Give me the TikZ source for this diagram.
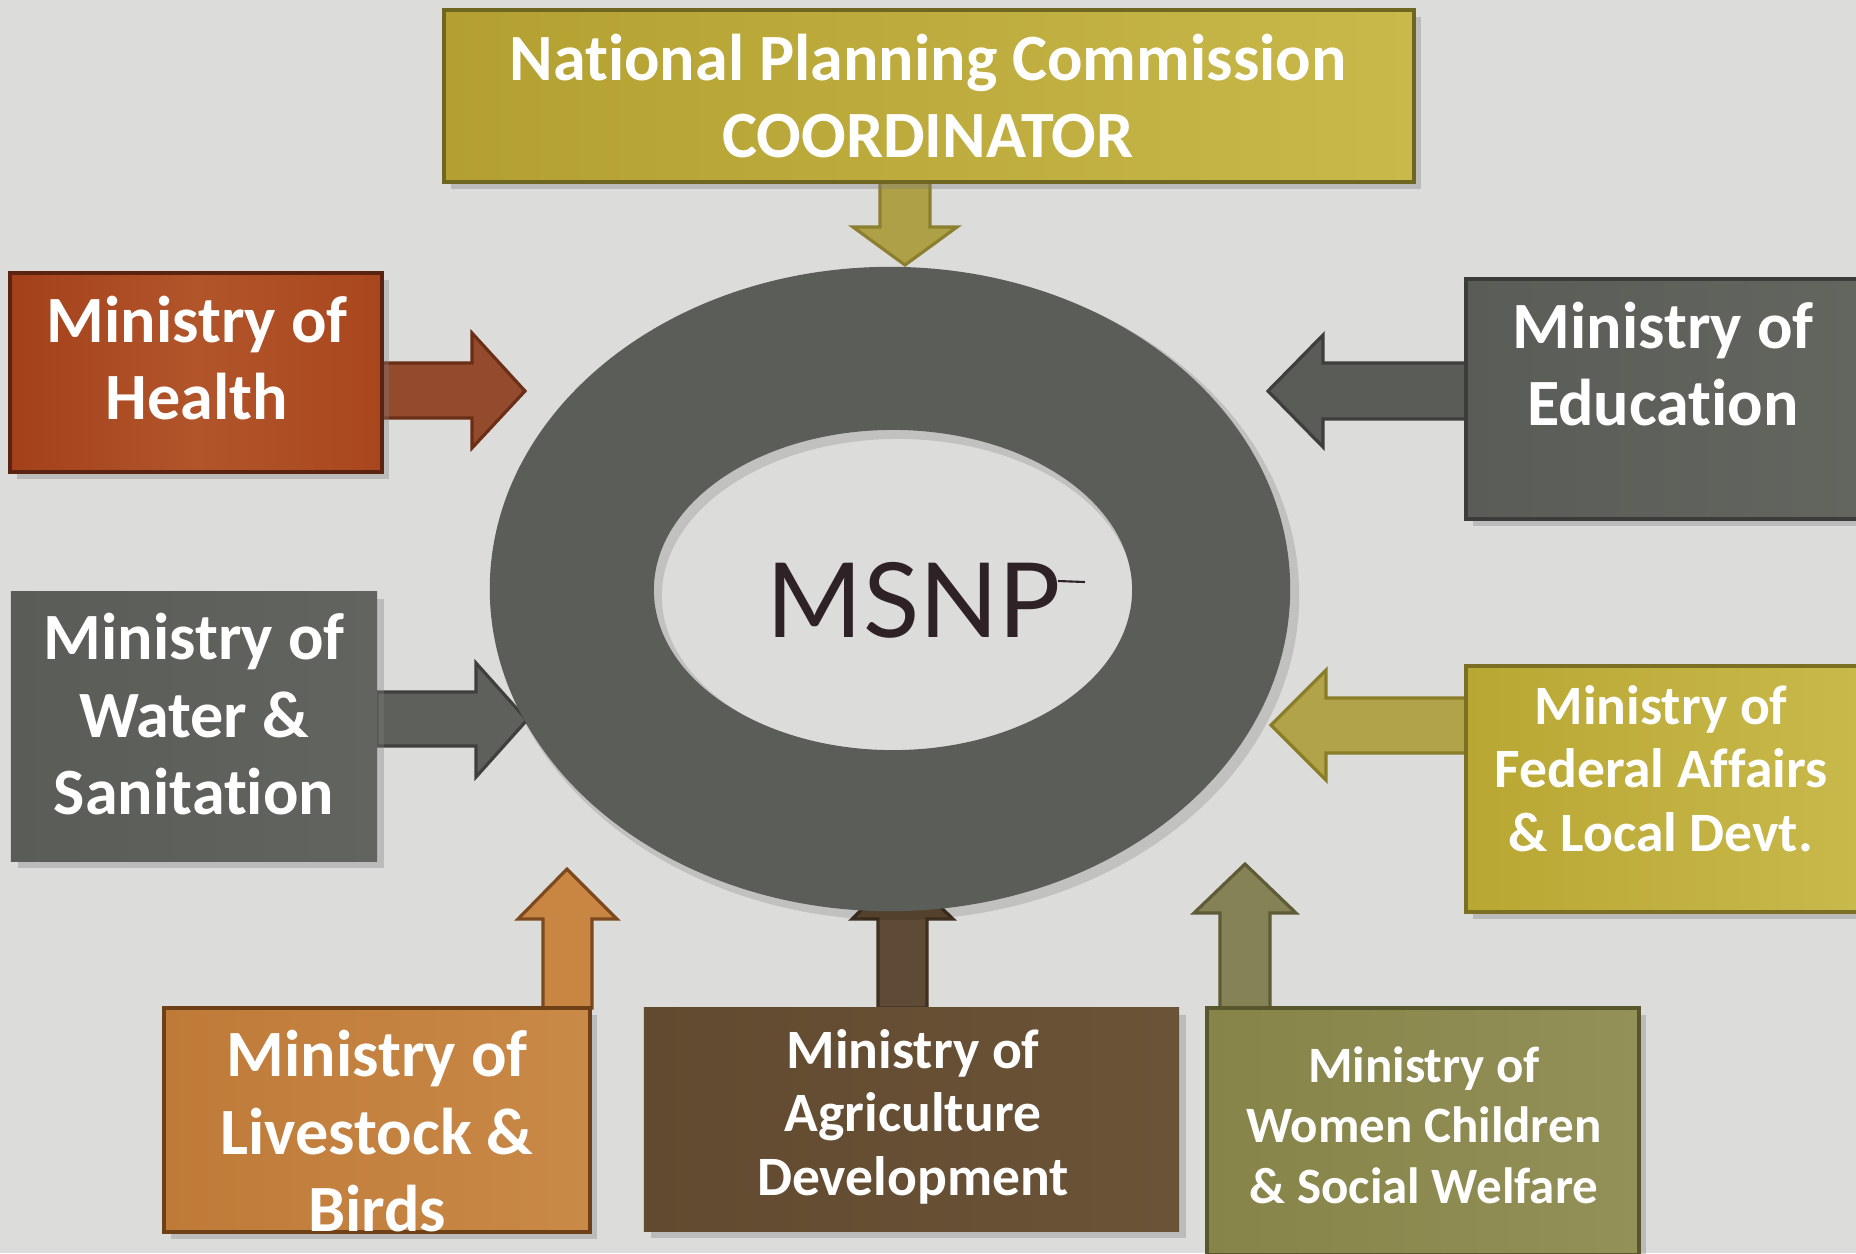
\documentclass[tikz,border=0pt]{standalone}
\usepackage{fontspec}
\setmainfont{Carlito}[Ligatures={NoCommon}]
\newfontfamily\msnpfont{Lato}
\usetikzlibrary{shadows}
\definecolor{bg}{HTML}{DCDCDB}
\definecolor{ring}{HTML}{5B5D58}
\definecolor{msnpc}{HTML}{2E2226}
% arrow colours
\definecolor{aNf}{HTML}{ADA046}\definecolor{aNd}{HTML}{8C8030}
\definecolor{aHf}{HTML}{944A2C}\definecolor{aHd}{HTML}{6B2E16}
\definecolor{aEf}{HTML}{5A5C57}\definecolor{aEd}{HTML}{3E3F3C}
\definecolor{aWf}{HTML}{5E605B}\definecolor{aWd}{HTML}{3F403D}
\definecolor{aFf}{HTML}{B0A349}\definecolor{aFd}{HTML}{8A7D28}
\definecolor{aCf}{HTML}{858255}\definecolor{aCd}{HTML}{5E5B36}
\definecolor{aLf}{HTML}{C98542}\definecolor{aLd}{HTML}{7C4A1E}
\definecolor{aAf}{HTML}{5F4B35}\definecolor{aAd}{HTML}{3F3020}
% box colours
\definecolor{bN1}{HTML}{B3A031}\definecolor{bN2}{HTML}{C8B94A}\definecolor{bNd}{HTML}{6F6621}
\definecolor{bH1}{HTML}{A3401A}\definecolor{bH2}{HTML}{A9461D}\definecolor{bH3}{HTML}{B2552B}\definecolor{bHd}{HTML}{5A2410}
\definecolor{bE1}{HTML}{5A5C57}\definecolor{bE2}{HTML}{63655F}\definecolor{bEd}{HTML}{3C3D3A}
\definecolor{bW1}{HTML}{5A5C57}\definecolor{bW2}{HTML}{62645F}
\definecolor{bF1}{HTML}{B9A733}\definecolor{bF2}{HTML}{C8B94B}\definecolor{bFd}{HTML}{7A6F22}
\definecolor{bC1}{HTML}{878449}\definecolor{bC2}{HTML}{939058}\definecolor{bCd}{HTML}{59562E}
\definecolor{bA1}{HTML}{614A2F}\definecolor{bA2}{HTML}{6A5337}
\definecolor{bL1}{HTML}{BF7A38}\definecolor{bL2}{HTML}{C98947}\definecolor{bLd}{HTML}{6E4017}
\tikzset{
  mbox/.style={rectangle, inner sep=0pt, outer sep=0pt, line width=1.1pt,
    drop shadow={opacity=0.35, shadow xshift=2pt, shadow yshift=-2pt}},
  btxt/.style={text=white, align=center, anchor=base, inner sep=0pt},
  barrow/.style={line width=0.9pt, line join=miter},
  bigf/.style={font={\bfseries\fontsize{18.8}{21.9}\selectfont}},
  midf/.style={font={\bfseries\fontsize{15.8}{18}\selectfont}},
  smallf/.style={font={\bfseries\fontsize{14.5}{17.2}\selectfont}},
}
\begin{document}
\begin{tikzpicture}[x=0.01cm,y=-0.01cm]
\fill[bg] (0,0) rectangle (1856,1253);
\useasboundingbox (0,0) rectangle (1856,1253);

% arrows
\draw[barrow, fill=aNf, draw=aNd] (880,182)--(880,227)--(853,227)--(905,265)--(957,227)--(930,227)--(930,182)--cycle;
\draw[barrow, fill=aHf, draw=aHd] (382,363)--(472,363)--(472,333)--(525,391)--(472,448)--(472,418)--(382,418)--cycle;
\draw[barrow, fill=aEf, draw=aEd] (1466,363)--(1323,363)--(1323,335)--(1268,391)--(1323,447)--(1323,419)--(1466,419)--cycle;
\draw[barrow, fill=aWf, draw=aWd] (377,692)--(476,692)--(476,663)--(527,720)--(476,777)--(476,746)--(377,746)--cycle;
\draw[barrow, fill=aFf, draw=aFd] (1466,698)--(1326,698)--(1326,670)--(1271,725)--(1326,780)--(1326,753)--(1466,753)--cycle;
\draw[barrow, fill=aCf, draw=aCd] (1220,1008)--(1220,913)--(1194,913)--(1245,864)--(1296,913)--(1270,913)--(1270,1008)--cycle;
\draw[barrow, fill=aLf, draw=aLd] (543,1008)--(543,919)--(518,919)--(567,869)--(617,919)--(592,919)--(592,1008)--cycle;
\draw[barrow, fill=aAf, draw=aAd] (878,1008)--(878,919)--(852,919)--(902,870)--(953,919)--(927,919)--(927,1008)--cycle;

% ring with soft shadow
\fill[black, opacity=0.12, even odd rule]
  (896,595) ellipse [x radius=4.03cm, y radius=3.25cm]
  (898,596) ellipse [x radius=2.36cm, y radius=1.57cm];
\fill[ring, even odd rule]
  (890,589) ellipse [x radius=4cm, y radius=3.22cm]
  (893,590) ellipse [x radius=2.39cm, y radius=1.60cm];
\node[inner sep=0pt, anchor=base, text=msnpc, font={\msnpfont\fontsize{29.5}{30}\selectfont}] (msnp) at (914,637) {MSNP};
\draw[msnpc, line width=0.6pt] (1058,581) -- (1085,582);

% boxes
\node[mbox, minimum width=9.70cm, minimum height=1.72cm, left color=bN1, right color=bN2, draw=bNd] (npc) at (929,96) {};
\node[mbox, minimum width=3.71cm, minimum height=1.99cm, left color=bH1, right color=bH2, middle color=bH3, draw=bHd] (health) at (196,372.5) {};
\node[mbox, minimum width=3.92cm, minimum height=2.40cm, left color=bE1, right color=bE2, draw=bEd] (edu) at (1662,399) {};
\node[mbox, minimum width=3.66cm, minimum height=2.69cm, left color=bW1, right color=bW2] (water) at (194,726.5) {};
\node[mbox, minimum width=3.92cm, minimum height=2.46cm, left color=bF1, right color=bF2, draw=bFd] (fed) at (1662,789) {};
\node[mbox, minimum width=4.32cm, minimum height=2.47cm, left color=bC1, right color=bC2, draw=bCd] (women) at (1423,1131.5) {};
\node[mbox, minimum width=5.35cm, minimum height=2.23cm, left color=bA1, right color=bA2] (agri) at (911.5,1119.5) {};
\node[mbox, minimum width=4.26cm, minimum height=2.24cm, left color=bL1, right color=bL2, draw=bLd] (live) at (377,1120) {};

% texts (anchor base = last line's baseline)
\node[btxt, bigf] (npct) at (928,157) {National Planning Commission\\COORDINATOR};
\node[btxt, bigf] (healtht) at (197,419) {Ministry of\\Health};
\node[btxt, bigf] (edut) at (1663,425) {Ministry of\\Education};
\node[btxt, bigf] (watert) at (194,814) {Ministry of\\Water \&\\Sanitation};
\node[btxt, midf] (fedt) at (1661,851) {Ministry of\\Federal Affairs\\\& Local Devt.};
\node[btxt, smallf] (woment) at (1424,1203) {Ministry of\\Women Children\\\& Social Welfare};
\node[btxt, midf] (agrit) at (913,1195) {Ministry of\\Agriculture\\Development};
\node[btxt, bigf] (livet) at (377,1231) {Ministry of\\Livestock \&\\Birds};
\end{tikzpicture}
\end{document}
